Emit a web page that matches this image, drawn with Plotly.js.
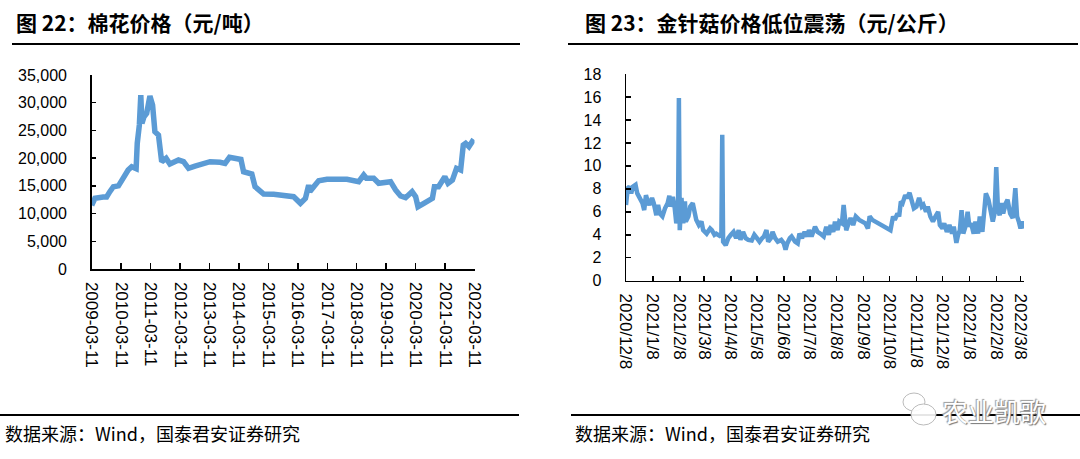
<!DOCTYPE html>
<html>
<head>
<meta charset="utf-8">
<script src="https://cdn.plot.ly/plotly-3.0.1.min.js"></script>
<style>
  html, body { margin: 0; padding: 0; background: #fff; }
  #chart { width: 1080px; height: 459px; }
</style>
</head>
<body>
<div id="chart"></div>
<script>
// 图22 棉花价格（元/吨）
var cottonDates = ['2009-03-11','2009-04-20','2009-07-31','2009-09-12','2009-10-22','2009-12-05',
  '2010-02-06','2010-03-18','2010-04-27','2010-06-06','2010-07-20','2010-09-13','2010-09-27','2010-10-23','2010-11-10','2010-11-24','2010-12-20',
  '2011-01-22','2011-03-03','2011-04-05','2011-05-04','2011-06-17','2011-07-27','2011-09-20','2011-11-06',
  '2012-02-20','2012-04-23','2012-06-24','2012-09-12','2012-12-27',
  '2013-03-18','2013-07-20','2013-09-20','2013-11-14',
  '2014-02-13','2014-04-05','2014-05-08','2014-08-18','2014-09-27','2014-11-28',
  '2015-01-12','2015-05-16','2015-09-17','2015-11-29',
  '2016-01-19','2016-04-12','2016-06-13','2016-07-23','2016-08-07','2016-09-24','2016-11-24',
  '2017-03-07','2017-07-09','2017-11-10',
  '2018-04-05','2018-06-06','2018-07-09','2018-10-08','2018-12-09',
  '2019-05-05','2019-07-06','2019-09-06','2019-11-07',
  '2020-01-27','2020-03-11','2020-04-09','2020-06-21','2020-10-05','2020-10-30','2020-12-20',
  '2021-03-08','2021-04-17','2021-06-10','2021-07-31','2021-09-20','2021-10-23','2021-11-21',
  '2022-01-01','2022-02-10','2022-03-11'];
var cottonPrice = [11500,12750,13000,13000,13950,14850,
  15000,16050,16650,17860,18450,18100,22670,25980,31390,26280,27480,
  28090,31210,29590,24770,24170,19360,19970,18940,
  19660,19360,18170,18570,19060,
  19360,19250,19060,20150,
  19760,19760,17550,17140,14850,14250,
  13530,13470,13170,13050,
  13050,11850,12750,15150,13950,14850,15930,
  16180,16180,16180,
  15750,16960,16360,16360,15460,
  15750,14250,13170,12870,
  13950,13050,11240,11850,12750,14850,14850,
  16650,15460,16050,18170,17860,22370,22670,
  22070,22970,22670];

// 图23 金针菇价格（元/公斤）
var enokiDates = [
  '2020-12-08','2020-12-10','2020-12-12','2020-12-14','2020-12-16','2020-12-19','2020-12-21','2020-12-24','2020-12-27','2020-12-29','2020-12-31',
  '2021-01-02','2021-01-04','2021-01-07','2021-01-09','2021-01-12','2021-01-14','2021-01-16','2021-01-19','2021-01-22','2021-01-25','2021-01-27','2021-01-28','2021-01-31',
  '2021-02-02','2021-02-04','2021-02-06','2021-02-07','2021-02-08','2021-02-10','2021-02-12','2021-02-14','2021-02-15','2021-02-18','2021-02-20','2021-02-23','2021-02-25','2021-02-27',
  '2021-03-02','2021-03-05','2021-03-07','2021-03-11','2021-03-15','2021-03-17','2021-03-20','2021-03-22','2021-03-26','2021-03-28','2021-03-29','2021-03-30',
  '2021-04-02','2021-04-05','2021-04-08','2021-04-11','2021-04-14','2021-04-17','2021-04-19','2021-04-22','2021-04-25','2021-04-28',
  '2021-05-02','2021-05-05','2021-05-08','2021-05-11','2021-05-14','2021-05-16','2021-05-19','2021-05-21','2021-05-24','2021-05-26','2021-05-29',
  '2021-06-01','2021-06-05','2021-06-08','2021-06-10','2021-06-12','2021-06-15','2021-06-17','2021-06-21','2021-06-24','2021-06-26','2021-06-29',
  '2021-07-02','2021-07-05','2021-07-07','2021-07-10','2021-07-14','2021-07-17','2021-07-20','2021-07-24','2021-07-27','2021-07-30',
  '2021-08-01','2021-08-04','2021-08-06','2021-08-09','2021-08-11','2021-08-14','2021-08-16','2021-08-19','2021-08-21','2021-08-24','2021-08-27','2021-08-30',
  '2021-09-03','2021-09-07','2021-09-10','2021-09-13','2021-09-15','2021-09-18',
  '2021-10-09','2021-10-12','2021-10-14','2021-10-17','2021-10-19','2021-10-21','2021-10-23','2021-10-26','2021-10-28','2021-10-31',
  '2021-11-03','2021-11-05','2021-11-08','2021-11-11','2021-11-14','2021-11-16','2021-11-19','2021-11-21','2021-11-24','2021-11-27','2021-11-30',
  '2021-12-03','2021-12-05','2021-12-08','2021-12-10','2021-12-13','2021-12-16','2021-12-19','2021-12-21','2021-12-24','2021-12-26','2021-12-28','2021-12-30',
  '2022-01-01','2022-01-04','2022-01-06','2022-01-08','2022-01-10','2022-01-13','2022-01-15','2022-01-18','2022-01-20','2022-01-23','2022-01-27','2022-01-30',
  '2022-02-01','2022-02-04','2022-02-06','2022-02-08','2022-02-10','2022-02-12','2022-02-14','2022-02-16','2022-02-19','2022-02-21','2022-02-24','2022-02-27',
  '2022-03-02','2022-03-04','2022-03-06','2022-03-08','2022-03-10','2022-03-12'];
var enokiPrice = [
  6.6,8.05,8.2,7.6,8.2,8.35,7.6,7.2,6.75,6.15,7.45,
  6.9,6.6,7.2,6.75,5.7,6.6,5.85,5.6,6.3,6.75,7.4,6.45,7.3,
  6.45,5.0,5.85,15.9,4.4,7.2,5.0,6.9,5.15,5.6,6.45,6.75,6.15,5.3,
  4.85,5.15,4.4,4.1,4.55,4.4,4.0,4.1,3.9,4.0,12.7,3.4,
  3.1,3.7,4.0,4.25,3.7,4.4,3.55,4.25,3.7,3.55,
  3.5,4.0,3.7,3.4,3.7,3.85,4.4,3.4,3.7,4.25,3.7,
  3.4,3.55,3.25,2.7,3.25,3.7,3.85,3.4,3.25,4.1,3.7,
  4.25,3.85,4.4,3.85,4.7,4.25,4.1,3.85,4.7,4.0,
  4.85,4.25,5.15,4.4,5.15,5.0,6.6,4.4,4.85,5.45,4.85,5.6,
  5.3,5.15,5.0,4.55,5.6,5.3,
  4.4,5.6,5.3,5.85,5.6,6.9,6.75,7.45,7.2,7.65,
  6.9,6.3,6.45,7.2,6.45,6.6,6.0,6.45,5.6,5.15,5.6,
  6.0,4.85,4.55,5.0,4.25,4.85,4.1,4.7,3.3,4.0,4.4,6.15,
  4.1,4.85,6.0,4.7,5.0,4.1,5.15,4.1,5.6,4.25,7.6,7.05,
  6.3,5.15,5.85,9.9,6.15,5.7,6.75,5.85,6.75,7.05,5.85,5.45,
  8.05,5.6,5.15,4.55,5.15,4.55];

var W = 1080, H = 459;
function px(x) { return x / W; }
function py(y) { return 1 - y / H; }

var lineColor = '#5B9BD5';
var tickFont = {family: 'Liberation Sans, Arial, sans-serif', size: 16, color: '#000'};
var cjk = 'Noto Sans CJK SC, sans-serif';

var trace1 = {
  x: cottonDates,
  y: cottonPrice,
  type: 'scatter',
  mode: 'lines',
  line: {color: lineColor, width: 5.5},
  xaxis: 'x',
  yaxis: 'y',
  hoverinfo: 'none'
};

var trace2 = {
  x: enokiDates,
  y: enokiPrice,
  type: 'scatter',
  mode: 'lines',
  line: {color: lineColor, width: 4.5},
  xaxis: 'x2',
  yaxis: 'y2',
  hoverinfo: 'none'
};

var axisBase = {
  showline: true, linecolor: '#000', linewidth: 1.5,
  showgrid: false, zeroline: false,
  ticks: 'inside', tickcolor: '#000', tickwidth: 1.5,
  tickfont: tickFont, fixedrange: true
};

function lineShape(x0, y0, x1, y1) {
  return {type: 'line', xref: 'paper', yref: 'paper',
    x0: px(x0), y0: py(y0), x1: px(x1), y1: py(y1),
    line: {color: '#000', width: 2}};
}

var layout = {
  width: W, height: H,
  margin: {l: 0, r: 0, t: 0, b: 0},
  paper_bgcolor: '#fff', plot_bgcolor: '#fff',
  showlegend: false,
  xaxis: Object.assign({}, axisBase, {
    domain: [px(91.7), px(474.5)],
    type: 'date',
    range: ['2009-03-11', '2022-03-11'],
    tick0: '2009-03-11', dtick: 'M12', tickformat: '%Y-%m-%d',
    tickangle: 90, ticklen: 6, ticklabelstandoff: 8,
    tickfont: Object.assign({}, tickFont, {size: 17}),
    anchor: 'y'
  }),
  yaxis: Object.assign({}, axisBase, {
    domain: [py(269), py(75)],
    range: [0, 35000], dtick: 5000, tickformat: ',d',
    ticklen: 4, ticklabelstandoff: 20,
    anchor: 'x'
  }),
  xaxis2: Object.assign({}, axisBase, {
    domain: [px(626), px(1024)],
    type: 'date',
    range: ['2020-12-08', '2022-03-12'],
    tick0: '2020-12-08', dtick: 'M1', tickformat: '%Y/%-m/%-d',
    tickangle: 90, ticklen: 5, ticklabelstandoff: 8,
    tickfont: Object.assign({}, tickFont, {size: 17}),
    anchor: 'y2'
  }),
  yaxis2: Object.assign({}, axisBase, {
    domain: [py(280.7), py(74)],
    range: [0, 18], dtick: 2,
    ticklen: 5, ticklabelstandoff: 20,
    anchor: 'x2'
  }),
  shapes: [
    lineShape(12, 44, 520, 44),
    lineShape(568, 44, 1078, 44),
    lineShape(0, 415, 519, 415),
    lineShape(571, 415, 1080, 415),
    // 水印图标
    {type: 'circle', xref: 'paper', yref: 'paper',
      x0: px(903), x1: px(925), y0: py(411), y1: py(393),
      line: {color: '#bbb', width: 1}, fillcolor: 'rgba(255,255,255,0.8)'},
    {type: 'circle', xref: 'paper', yref: 'paper',
      x0: px(911), x1: px(936), y0: py(425), y1: py(404),
      line: {color: '#bbb', width: 1}, fillcolor: 'rgba(255,255,255,0.9)'}
  ],
  annotations: [
    {text: '图 22：棉花价格（元/吨）', xref: 'paper', yref: 'paper',
      x: px(14), y: py(22), xanchor: 'left', yanchor: 'middle', showarrow: false,
      font: {family: cjk, size: 21, weight: 'bold', color: '#000'}},
    {text: '图 23：金针菇价格低位震荡（元/公斤）', xref: 'paper', yref: 'paper',
      x: px(583), y: py(22), xanchor: 'left', yanchor: 'middle', showarrow: false,
      font: {family: cjk, size: 21, weight: 'bold', color: '#000'}},
    {text: '数据来源：Wind，国泰君安证券研究', xref: 'paper', yref: 'paper',
      x: px(3), y: py(433), xanchor: 'left', yanchor: 'middle', showarrow: false,
      font: {family: cjk, size: 18, color: '#000'}},
    {text: '数据来源：Wind，国泰君安证券研究', xref: 'paper', yref: 'paper',
      x: px(573), y: py(433), xanchor: 'left', yanchor: 'middle', showarrow: false,
      font: {family: cjk, size: 18, color: '#000'}},
    {text: '农业凯歌', xref: 'paper', yref: 'paper',
      x: px(940), y: py(410), xanchor: 'left', yanchor: 'middle', showarrow: false,
      font: {family: cjk, size: 26, color: '#fff', shadow: '1px 1px 1px #777, -1px -1px 1px #999'}}
  ]
};

Plotly.newPlot('chart', [trace1, trace2], layout, {staticPlot: true, displayModeBar: false});
</script>
</body>
</html>
